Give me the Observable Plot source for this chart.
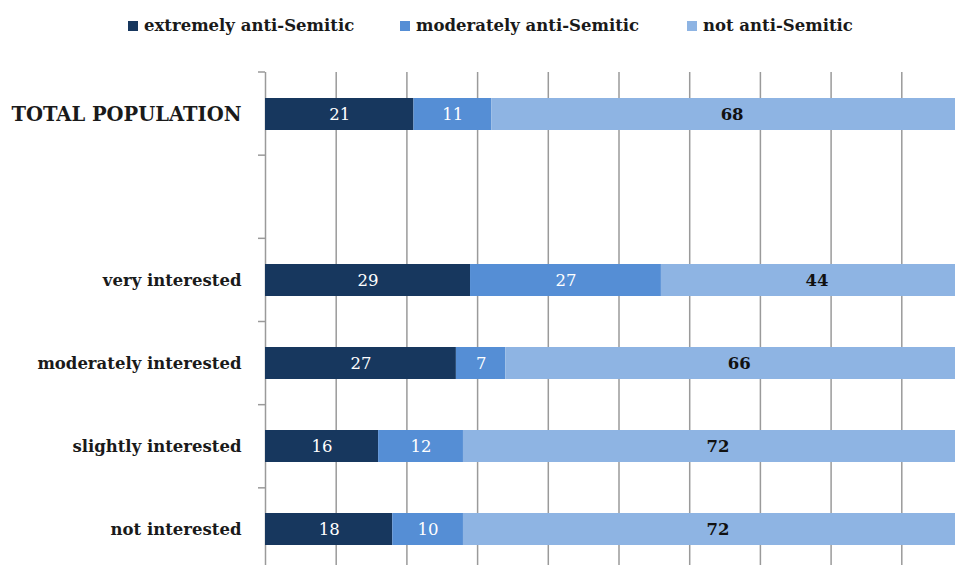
<!DOCTYPE html>
<html>
<head>
<meta charset="utf-8">
<script src="https://cdn.jsdelivr.net/npm/d3@7"></script>
<script src="https://cdn.jsdelivr.net/npm/@observablehq/plot@0.6"></script>
<style>
  html, body { margin: 0; padding: 0; background: white; overflow: hidden; }
  #wrap { position: relative; width: 955px; height: 565px; overflow: hidden; }
  #legend { position: absolute; top: 0; left: 0; width: 955px; height: 50px; font-family: "DejaVu Serif", serif; font-weight: bold; font-size: 16.5px; color: #1a1a1a; }
  .item { position: absolute; top: 16px; display: flex; align-items: center; white-space: nowrap; line-height: 20px; }
  .sw { width: 10px; height: 10px; margin-right: 6px; }
  #chart { position: absolute; top: 0; left: 0; }
</style>
</head>
<body>
<div id="wrap">
  <div id="chart"></div>
  <div id="legend"></div>
</div>
<script>
const categories = ["TOTAL POPULATION", "", "very interested", "moderately interested", "slightly interested", "not interested"];
const seriesNames = ["extremely anti-Semitic", "moderately anti-Semitic", "not anti-Semitic"];
const seriesColors = ["#17375e", "#558ed5", "#8eb4e3"];
const extremely = [21, null, 29, 27, 16, 18];
const moderately = [11, null, 27, 7, 12, 10];
const notAnti = [68, null, 44, 66, 72, 72];
const xTicks = [0, 10, 20, 30, 40, 50, 60, 70, 80, 90, 100];
const legendX = [128, 400, 687];

const seriesValues = [extremely, moderately, notAnti];
const data = [];
categories.forEach((c, i) => {
  seriesValues.forEach((vals, s) => {
    if (vals[i] != null) data.push({group: c, series: seriesNames[s], value: vals[i]});
  });
});

const fontFamily = '"DejaVu Serif", serif';

function bandTicks(index, scales, values, dimensions) {
  const {height, marginTop, marginBottom, marginLeft} = dimensions;
  const n = categories.length;
  const step = (height - marginTop - marginBottom) / n;
  const g = document.createElementNS("http://www.w3.org/2000/svg", "g");
  for (let k = 0; k <= n; k++) {
    const y = marginTop + k * step;
    const l = document.createElementNS("http://www.w3.org/2000/svg", "line");
    l.setAttribute("x1", marginLeft - 7);
    l.setAttribute("x2", marginLeft);
    l.setAttribute("y1", y);
    l.setAttribute("y2", y);
    l.setAttribute("stroke", "#9a9a9a");
    l.setAttribute("stroke-width", 1.5);
    g.appendChild(l);
  }
  return g;
}

const chart = Plot.plot({
  width: 955,
  height: 565,
  marginLeft: 265,
  marginRight: -17,
  marginTop: 72,
  marginBottom: -6,
  style: {fontFamily, background: "white", overflow: "hidden"},
  x: {domain: [0, 100], axis: null},
  y: {domain: categories, paddingInner: 0.615, paddingOuter: 0.3075, axis: null, label: null},
  color: {domain: seriesNames, range: seriesColors},
  marks: [
    Plot.ruleX(xTicks, {stroke: "#9a9a9a", strokeWidth: 1.5}),
    bandTicks,
    Plot.barX(data, Plot.stackX({x: "value", y: "group", fill: "series", z: "series", order: seriesNames})),
    Plot.text(data, Plot.stackX({x: "value", y: "group", z: "series", order: seriesNames,
      text: d => d.series !== "not anti-Semitic" ? String(d.value) : null,
      fill: "white", fontSize: 16.5})),
    Plot.text(data, Plot.stackX({x: "value", y: "group", z: "series", order: seriesNames,
      text: d => d.series === "not anti-Semitic" ? String(d.value) : null,
      fill: "#111", fontSize: 16.5, fontWeight: "bold"})),
    Plot.text(categories.filter(c => c !== ""), {
      y: d => d, text: d => d, frameAnchor: "left", textAnchor: "end", dx: -24,
      fontSize: d => d === "TOTAL POPULATION" ? 19.5 : 16.5,
      fontWeight: "bold", fill: "#1a1a1a"
    })
  ]
});
document.getElementById("chart").appendChild(chart);

const legend = document.getElementById("legend");
seriesNames.forEach((name, i) => {
  const item = document.createElement("div");
  item.className = "item";
  item.style.left = legendX[i] + "px";
  const sw = document.createElement("span");
  sw.className = "sw";
  sw.style.background = seriesColors[i];
  const t = document.createElement("span");
  t.textContent = name;
  item.appendChild(sw);
  item.appendChild(t);
  legend.appendChild(item);
});
</script>
</body>
</html>
